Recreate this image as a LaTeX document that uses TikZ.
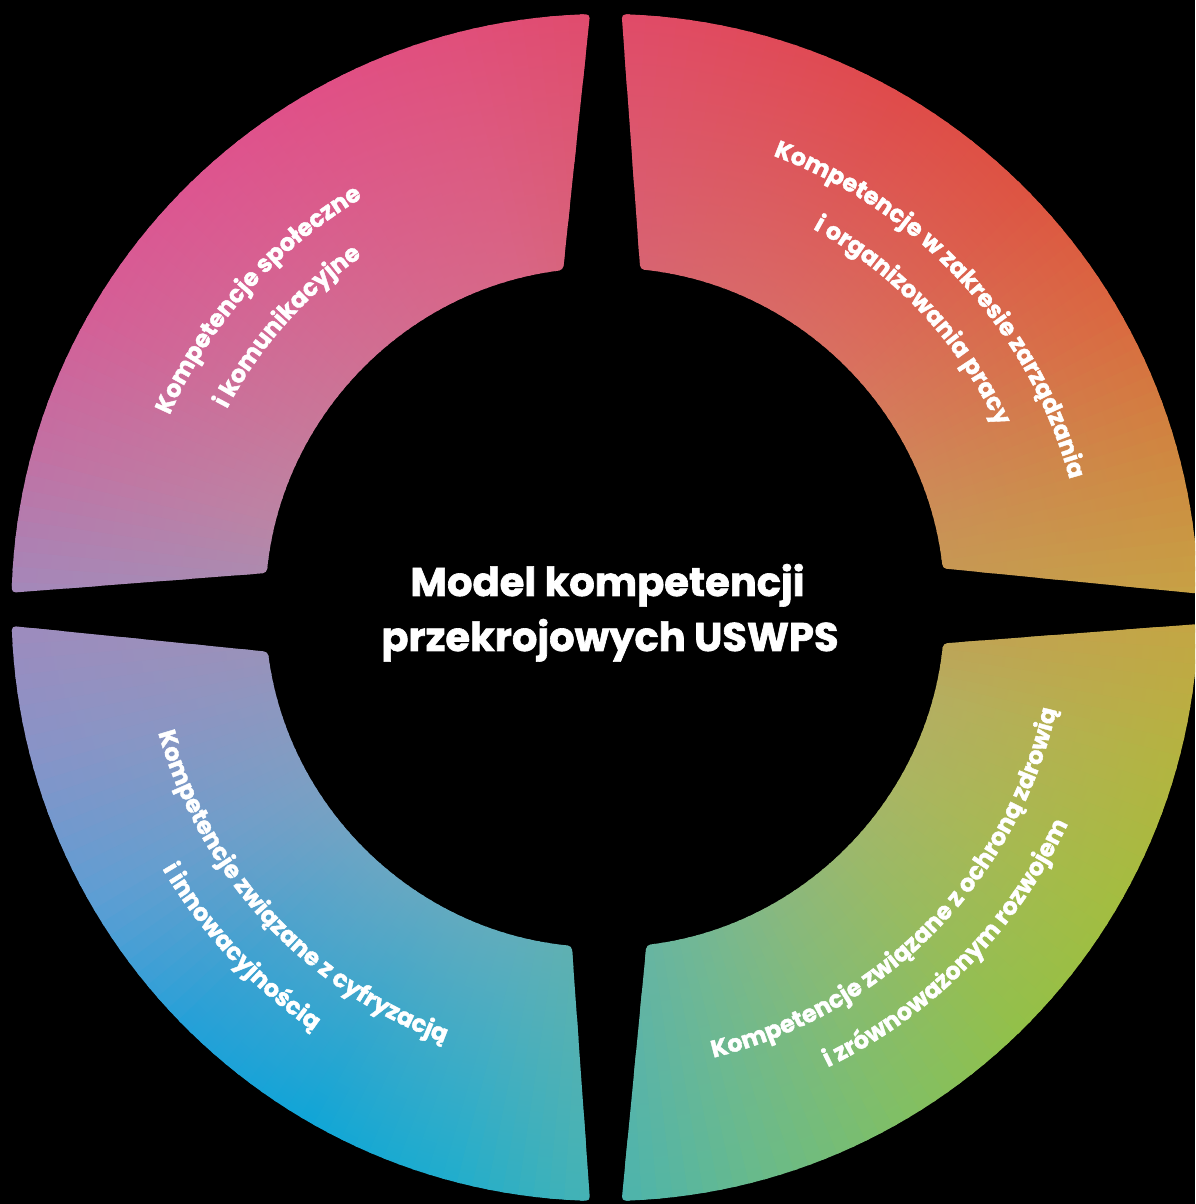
\documentclass[tikz,border=0pt]{standalone}
\usepackage{fontspec}
\setmainfont{Poppins}[BoldFeatures={FakeBold=1.6}]
\usetikzlibrary{decorations.text}

% key colours of the ring, every 15 degrees (o = outer rim, i = inner rim)
\definecolor{o0}{HTML}{C6A444}\definecolor{i0}{HTML}{C49E52}
\definecolor{o1}{HTML}{CF8840}\definecolor{i1}{HTML}{CA9056}
\definecolor{o2}{HTML}{DA6840}\definecolor{i2}{HTML}{D37F59}
\definecolor{o3}{HTML}{DD5442}\definecolor{i3}{HTML}{D9715F}
\definecolor{o4}{HTML}{DF4B4A}\definecolor{i4}{HTML}{D96A66}
\definecolor{o5}{HTML}{E04A5A}\definecolor{i5}{HTML}{D8666C}
\definecolor{o6}{HTML}{E04B6B}\definecolor{i6}{HTML}{D86275}
\definecolor{o7}{HTML}{E04F7B}\definecolor{i7}{HTML}{D86686}
\definecolor{o8}{HTML}{E05087}\definecolor{i8}{HTML}{D5698C}
\definecolor{o9}{HTML}{DD5590}\definecolor{i9}{HTML}{CF7093}
\definecolor{o10}{HTML}{D55E96}\definecolor{i10}{HTML}{C7799A}
\definecolor{o11}{HTML}{C270A3}\definecolor{i11}{HTML}{BC84A4}
\definecolor{o12}{HTML}{A18ABC}\definecolor{i12}{HTML}{A48EB5}
\definecolor{o13}{HTML}{8694C8}\definecolor{i13}{HTML}{8F96BF}
\definecolor{o14}{HTML}{5C9ED4}\definecolor{i14}{HTML}{7E9EC3}
\definecolor{o15}{HTML}{24A0D8}\definecolor{i15}{HTML}{6DA5C4}
\definecolor{o16}{HTML}{10A5D7}\definecolor{i16}{HTML}{63A9C1}
\definecolor{o17}{HTML}{20ADCD}\definecolor{i17}{HTML}{60ADBB}
\definecolor{o18}{HTML}{48B3B2}\definecolor{i18}{HTML}{5EB2AC}
\definecolor{o19}{HTML}{68BA8B}\definecolor{i19}{HTML}{71B796}
\definecolor{o20}{HTML}{80BF65}\definecolor{i20}{HTML}{88B880}
\definecolor{o21}{HTML}{93C048}\definecolor{i21}{HTML}{9BB86D}
\definecolor{o22}{HTML}{A3BD40}\definecolor{i22}{HTML}{ABB562}
\definecolor{o23}{HTML}{B3B440}\definecolor{i23}{HTML}{B5AE60}
\definecolor{o24}{HTML}{C6A444}\definecolor{i24}{HTML}{C49E52}

\newcommand\segfont{\fontsize{24}{30}\selectfont\bfseries\color{white}}
\newcommand\titlefont{\fontsize{40}{55}\selectfont\bfseries}

\tikzset{
  segline/.style={decorate, decoration={text along path, text align=center,
      text={|\segfont|#1}}},
  titleline/.style={text=white, font=\titlefont, anchor=base, inner sep=0pt},
}

\begin{document}
\begin{tikzpicture}[x=1pt, y=1pt]
\fill[black] (-605,-596.5) rectangle (590,607.5);
\useasboundingbox (-605,-596.5) rectangle (590,607.5);
\clip (-605,-596.5) rectangle (590,607.5);

% ---- the four ring segments, filled with a conic x radial gradient ----
\begin{scope}
  \clip[rounded corners=4pt]
    (1.34:593.5) arc[start angle=1.34, end angle=88.39, radius=593.5]
      -- (84.05:340) arc[start angle=84.05, end angle=6.61, radius=340] -- cycle
    (91.45:593.5) arc[start angle=91.45, end angle=178.57, radius=593.5]
      -- (174.17:340) arc[start angle=174.17, end angle=97.08, radius=340] -- cycle
    (181.79:593.5) arc[start angle=181.79, end angle=268.55, radius=593.5]
      -- (264.4:340) arc[start angle=264.4, end angle=187.48, radius=340] -- cycle
    (271.61:593.5) arc[start angle=271.61, end angle=358.4, radius=593.5]
      -- (353.93:340) arc[start angle=353.93, end angle=277.0, radius=340] -- cycle;
  \foreach \k in {0,...,23}{
    \pgfmathtruncatemacro\kk{\k+1}
    \foreach \j in {0,...,9}{
      \pgfmathtruncatemacro\p{100-10*\j}
      \colorlet{co}{o\k!\p!o\kk}
      \colorlet{ci}{i\k!\p!i\kk}
      \edef\shname{ringsh\k x\j}
      \pgfdeclareradialshading{\shname}{\pgfpointorigin}{color(0bp)=(ci); color(14.3bp)=(ci); color(25bp)=(co); color(50bp)=(co)}
      \pgfmathsetmacro\aa{15*\k+1.5*\j-0.95}
      \pgfmathsetmacro\ab{15*\k+1.5*\j+0.95}
      \begin{scope}
        \clip (0,0) -- (\aa:720) arc[start angle=\aa, end angle=\ab, radius=720] -- cycle;
        \shade[shading=\shname] (0,0) circle[radius=593.5];
      \end{scope}
    }
  }
\end{scope}

% ---- curved segment labels ----
% top left
\path[segline={Kompetencje społeczne}] (188.4:476) arc[start angle=188.4, end angle=88.4, radius=476];
\path[segline={i komunikacyjne}] (188.5:427) arc[start angle=188.5, end angle=88.5, radius=427];
% top right
\path[segline={Kompetencje w zakresie zarządzania}] (102.5:482) arc[start angle=102.5, end angle=-17.5, radius=482];
\path[segline={i organizowania pracy}] (103:432) arc[start angle=103, end angle=-17, radius=432];
% bottom right
\path[segline={Kompetencje związane z ochroną zdrowią}] (250.4:463) arc[start angle=250.4, end angle=380.4, radius=463];
\path[segline={i zrównoważonym rozwojem}] (250.4:511) arc[start angle=250.4, end angle=380.4, radius=511];
% bottom left
\path[segline={Kompetencje związane z cyfryzacją}] (157.7:464) arc[start angle=157.7, end angle=287.7, radius=464];
\path[segline={i innowacyjnością}] (158:514) arc[start angle=158, end angle=288, radius=514];

% ---- centre title ----
\node[titleline] (t1) at (2.5,11.5) {Model kompetencji};
\node[titleline] (t2) at (5,-43.5) {przekrojowych USWPS};
\end{tikzpicture}
\end{document}
